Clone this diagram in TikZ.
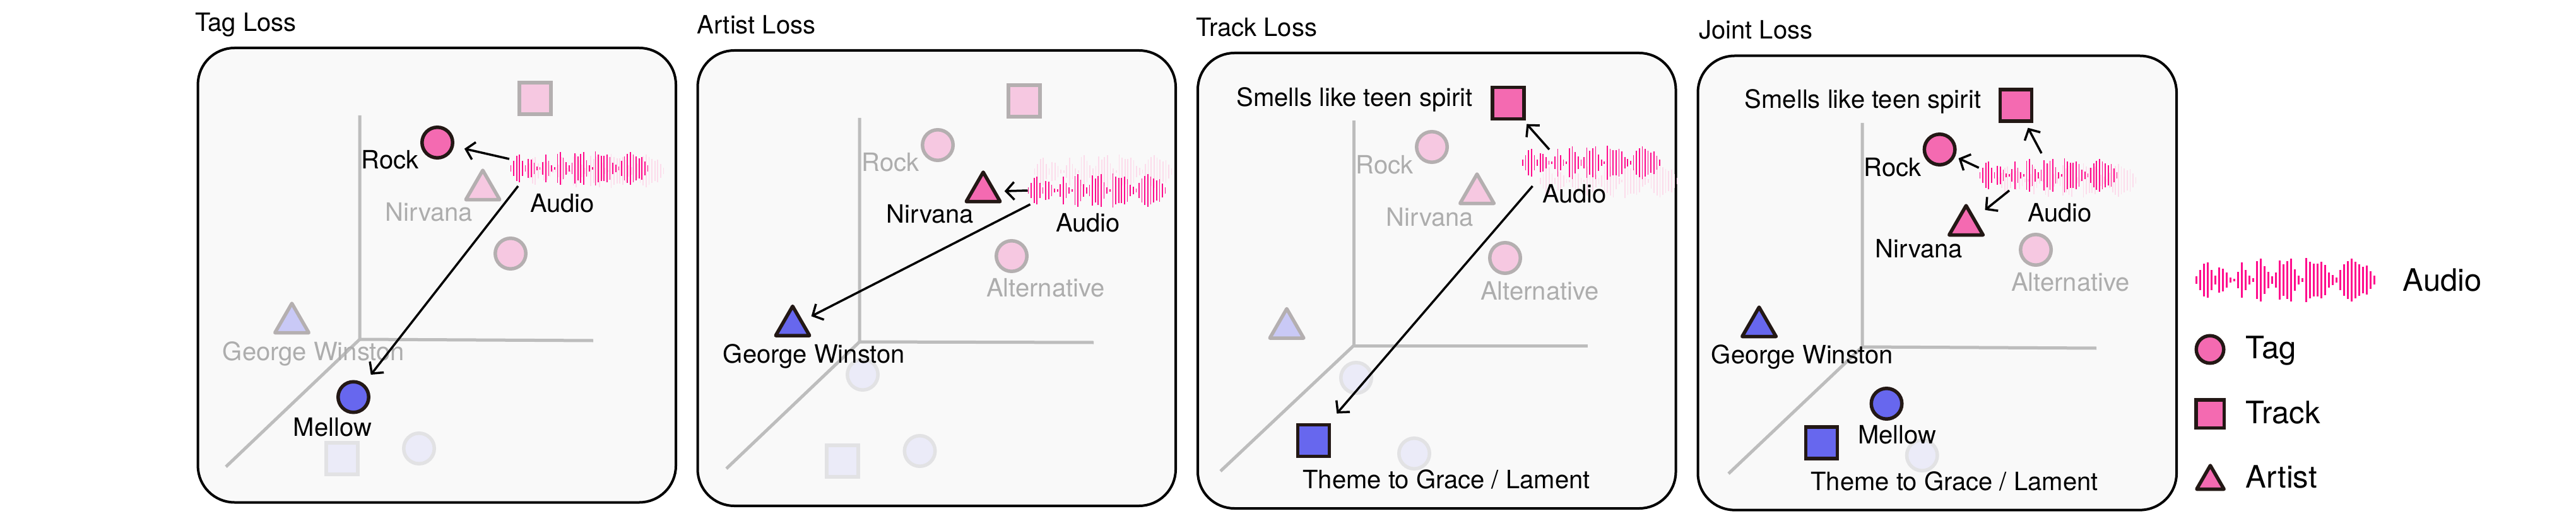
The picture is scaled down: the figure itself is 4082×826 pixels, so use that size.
\documentclass[tikz,border=0pt]{standalone}
\usepackage{fontspec}
\setmainfont{TeX Gyre Heros}
\usetikzlibrary{arrows.meta,shapes.geometric}

\definecolor{boxfill}{HTML}{F9F9F9}
\definecolor{axisc}{HTML}{BDBDBD}
\definecolor{pinkA}{HTML}{F46AB1}
\definecolor{blueA}{HTML}{6767EE}
\definecolor{edgeA}{HTML}{231815}
\definecolor{pinkF}{HTML}{F6C8E1}
\definecolor{blueF}{HTML}{C9C9F6}
\definecolor{edgeF}{HTML}{B4AFB0}
\definecolor{paleF}{HTML}{EBEBF8}
\definecolor{paleE}{HTML}{E2E2E4}
\definecolor{waveA}{HTML}{FF0A8C}
\definecolor{waveF}{HTML}{FCDCEB}
\definecolor{labelF}{HTML}{ADADAD}

\newcommand{\drawwave}[5]{%
  \foreach \h [count=\i from 0] in {6,16,26,28,16,7,20,18,12,4,2,13,28,16,7,3,30,34,22,13,6,12,31,25,30,34,17,7,3,35,29,26,26,29,24,12,8,4,16,25,30,34,29,25,21,23,14,7}
  { \draw[#4, line width=#5] ({#1+(\i*6-141)*#3},{#2-\h*#3}) -- ({#1+(\i*6-141)*#3},{#2+\h*#3}); }%
}

\tikzset{
  lbl/.style={inner sep=0pt, font=\fontsize{40}{48}\selectfont, text=black},
  flbl/.style={lbl, text=labelF},
  ttl/.style={inner sep=0pt, anchor=base west, font=\fontsize{40}{48}\selectfont},
  lgd/.style={inner sep=0pt, anchor=west, font=\fontsize{49}{58}\selectfont},
  panelbox/.style={draw=black, line width=4pt, fill=boxfill, rounded corners=58pt},
  axisline/.style={draw=axisc, line width=5pt},
  circ/.style={circle, line width=5.5pt, minimum size=48.5pt, inner sep=0pt},
  sqr/.style={rectangle, line width=5.5pt, minimum size=50pt, inner sep=0pt},
  tri/.style={regular polygon, regular polygon sides=3, line width=5.5pt, minimum size=62pt, inner sep=0pt, line join=round},
  pinkon/.style={fill=pinkA, draw=edgeA},
  blueon/.style={fill=blueA, draw=edgeA},
  pinkoff/.style={fill=pinkF, draw=edgeF},
  blueoff/.style={fill=blueF, draw=edgeF},
  paleoff/.style={fill=paleF, draw=paleE},
  arr/.style={draw=black, line width=3.5pt, -{Straight Barb[length=13pt,width=28pt]}},
}

\begin{document}
\begin{tikzpicture}[x=1pt,y=-1pt]
\useasboundingbox (0,0) rectangle (4082,826);

% ---------------- titles ----------------
\node[ttl] (title1) at (309,50) {Tag Loss};
\node[ttl] (title2) at (1104.5,54) {Artist Loss};
\node[ttl] (title3) at (1895,58) {Track Loss};
\node[ttl] (title4) at (2692,62) {Joint Loss};

% ---------------- boxes ----------------
\draw[panelbox] (313.6,76) rectangle (1071,796.5);
\draw[panelbox] (1105.5,80) rectangle (1863,802);
\draw[panelbox] (1898,84) rectangle (2655.5,806);
\draw[panelbox] (2690.5,88.5) rectangle (3449,808.6);

% ---------------- axes ----------------
\draw[axisline] (570,183) -- (570,538) -- (940,540);
\draw[axisline] (570,538) -- (358,740);
\draw[axisline] (1362,187) -- (1362,542) -- (1733,543);
\draw[axisline] (1362,542) -- (1151,743);
\draw[axisline] (2145,191) -- (2145,548) -- (2516,548);
\draw[axisline] (2145,548) -- (1934,747);
\draw[axisline] (2951,195) -- (2951,550) -- (3322,552);
\draw[axisline] (2951,550) -- (2739,751);

% ================= Panel 1: Tag Loss =================
\node[sqr, pinkoff] (p1trk) at (848,156) {};
\node[tri, pinkoff] (p1nir) at (765,301) {};
\node[circ, pinkoff] (p1alt) at (809,402) {};
\node[tri, blueoff] (p1gw) at (462.5,512) {};
\node[sqr, paleoff] (p1thm) at (542,727) {};
\node[circ, paleoff] (p1pale) at (664,711) {};
\node[flbl] (p1nirl) at (680,336) {Nirvana};
\node[flbl] (p1gwl) at (497,561) {George Winston};
\drawwave{943}{271}{0.77}{waveF}{1.7pt}
\drawwave{918}{267}{0.77}{waveA}{1.7pt}
\node[lbl] (p1aud) at (891,322) {Audio};
\node[circ, pinkon] (p1rock) at (693,226) {};
\node[lbl] (p1rockl) at (618,253) {Rock};
\node[circ, blueon] (p1mel) at (560,629.5) {};
\node[lbl] (p1mell) at (527,677) {Mellow};
\coordinate (t1a) at (807,252);
\coordinate (t1b) at (821,295);
\draw[arr, shorten >=17pt] (t1a) -- (p1rock);
\draw[arr, shorten >=18pt] (t1b) -- (p1mel);

% ================= Panel 2: Artist Loss =================
\node[sqr, pinkoff] (p2trk) at (1623,160) {};
\node[circ, pinkoff] (p2rock) at (1486,230) {};
\node[circ, pinkoff] (p2alt) at (1603,406) {};
\node[circ, paleoff] (p2pale) at (1367,594) {};
\node[sqr, paleoff] (p2thm) at (1335,731) {};
\node[circ, paleoff] (p2pale2) at (1457.5,715) {};
\node[flbl] (p2rockl) at (1411,257) {Rock};
\node[flbl] (p2altl) at (1657,456) {Alternative};
\drawwave{1748}{272}{0.77}{waveF}{1.7pt}
\drawwave{1738}{302}{0.77}{waveA}{1.7pt}
\node[lbl] (p2aud) at (1724,353) {Audio};
\node[tri, pinkon] (p2nir) at (1558,304) {};
\node[lbl] (p2nirl) at (1474,339) {Nirvana};
\node[tri, blueon] (p2gw) at (1256,516.5) {};
\node[lbl] (p2gwl) at (1290,565) {George Winston};
\coordinate (t2a) at (1628.5,302);
\coordinate (t2b) at (1632.5,324);
\draw[arr, shorten >=13pt] (t2a) -- (p2nir);
\draw[arr, shorten >=15pt] (t2b) -- (p2gw);

% ================= Panel 3: Track Loss =================
\node[circ, pinkoff] (p3rock) at (2269,233) {};
\node[tri, pinkoff] (p3nir) at (2340.5,307) {};
\node[circ, pinkoff] (p3alt) at (2385,409) {};
\node[tri, blueoff] (p3gw) at (2039,520.5) {};
\node[circ, paleoff] (p3pale) at (2149,599) {};
\node[circ, paleoff] (p3pale2) at (2241,719) {};
\node[flbl] (p3rockl) at (2194,261) {Rock};
\node[flbl] (p3nirl) at (2266,344) {Nirvana};
\node[flbl] (p3altl) at (2440,461) {Alternative};
\drawwave{2549.5}{287}{0.77}{waveF}{1.7pt}
\drawwave{2521.5}{258}{0.77}{waveA}{1.7pt}
\node[lbl] (p3aud) at (2495,307) {Audio};
\node[sqr, pinkon] (p3trk) at (2390,163.7) {};
\node[lbl] (p3trkl) at (2146.5,158) {Smells like teen spirit};
\node[sqr, blueon] (p3thm) at (2081.5,698.5) {};
\node[lbl] (p3thml) at (2292,760) {Theme to Grace / Lament};
\coordinate (t3a) at (2455,237);
\coordinate (t3b) at (2428.5,295);
\draw[arr, shorten >=7pt] (t3a) -- (p3trk);
\draw[arr, shorten >=20pt] (t3b) -- (p3thm);

% ================= Panel 4: Joint Loss =================
\node[circ, pinkoff] (p4alt) at (3226,396) {};
\node[circ, paleoff] (p4pale) at (3045.7,722) {};
\node[flbl] (p4altl) at (3281,447) {Alternative};
\drawwave{3276}{286}{0.77}{waveF}{1.7pt}
\drawwave{3246}{278}{0.77}{waveA}{1.7pt}
\node[lbl] (p4aud) at (3264,337) {Audio};
\node[sqr, pinkon] (p4trk) at (3194.6,167) {};
\node[lbl] (p4trkl) at (2952,160.5) {Smells like teen spirit};
\node[circ, pinkon] (p4rock) at (3073.6,237) {};
\node[lbl] (p4rockl) at (2999,265.5) {Rock};
\node[tri, pinkon] (p4nir) at (3115.5,357) {};
\node[lbl] (p4nirl) at (3041,394) {Nirvana};
\node[tri, blueon] (p4gw) at (2787.5,518) {};
\node[lbl] (p4gwl) at (2856,566) {George Winston};
\node[circ, blueon] (p4mel) at (2989.5,640) {};
\node[lbl] (p4mell) at (3006,689.5) {Mellow};
\node[sqr, blueon] (p4thm) at (2886.6,702) {};
\node[lbl] (p4thml) at (3097,763) {Theme to Grace / Lament};
\coordinate (t4a) at (3135.7,266);
\coordinate (t4b) at (3235,243);
\coordinate (t4c) at (3184,302);
\draw[arr, shorten >=6pt] (t4a) -- (p4rock);
\draw[arr, shorten >=9pt] (t4b) -- (p4trk);
\draw[arr, shorten >=20pt] (t4c) -- (p4nir);

% ================= Legend =================
\drawwave{3621.5}{444}{1}{waveA}{2.2pt}
\node[lgd] (lgaud) at (3807.6,444) {Audio};
\node[circ, pinkon, minimum size=43.5pt] (lgtag) at (3502,554) {};
\node[lgd] (lgtagl) at (3558.7,556) {Tag};
\node[sqr, pinkon, minimum size=44.5pt] (lgtrk) at (3502,656) {};
\node[lgd] (lgtrkl) at (3558.7,654) {Track};
\node[tri, pinkon, minimum size=50pt] (lgart) at (3502.5,763) {};
\node[lgd] (lgartl) at (3558.7,756) {Artist};
\end{tikzpicture}
\end{document}
